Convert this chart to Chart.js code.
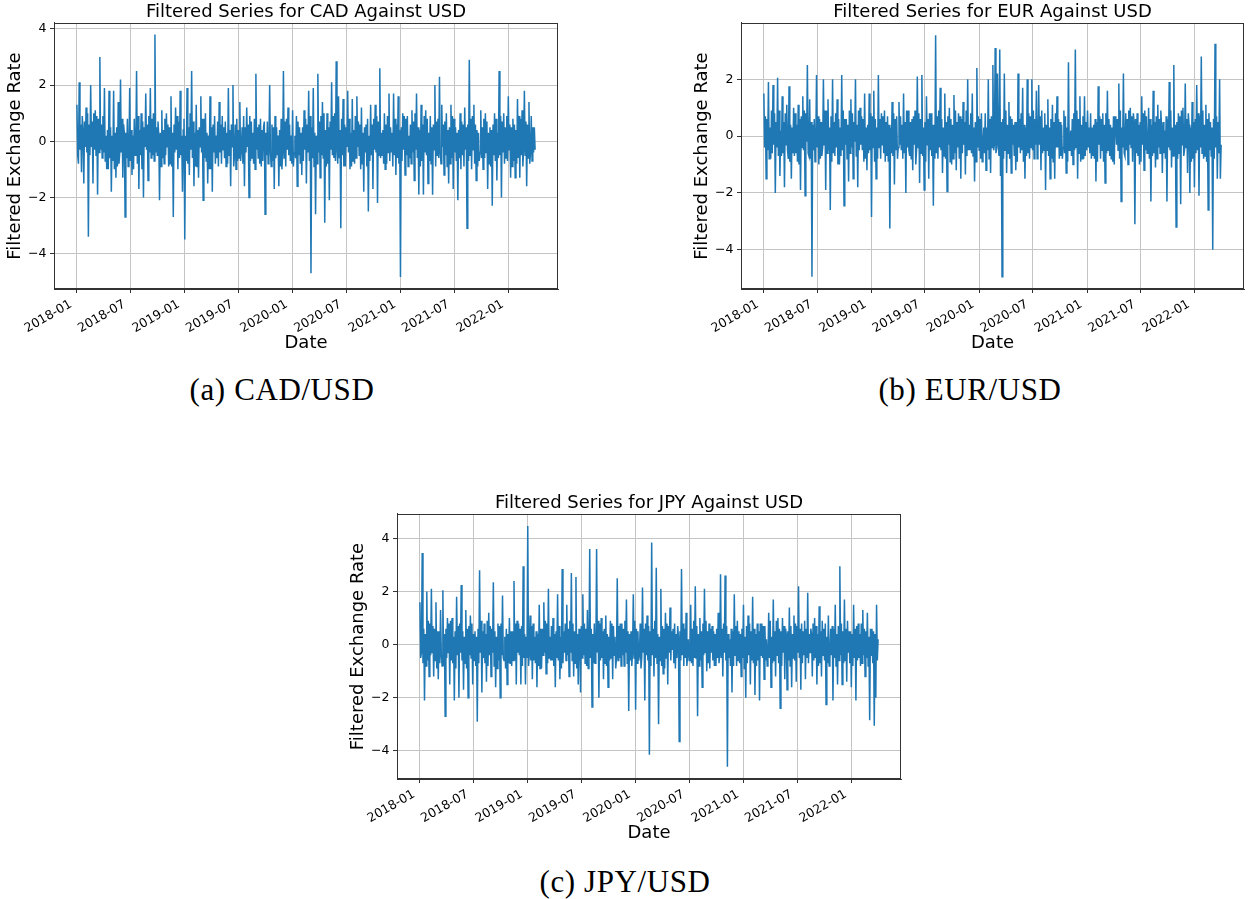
<!DOCTYPE html>
<html><head><meta charset="utf-8">
<script src="https://cdn.jsdelivr.net/npm/chart.js@4.4.1/dist/chart.umd.min.js"></script>
<style>
html,body{margin:0;padding:0;background:#fff;}
#page{position:relative;width:1250px;height:899px;overflow:hidden;background:#fff;}
canvas{position:absolute;}
.cap{position:absolute;font-family:"Liberation Serif","DejaVu Serif",serif;font-size:31px;color:#000;white-space:nowrap;transform:translate(-50%,-50%);letter-spacing:0.6px;}
</style></head><body>
<div id="page">
<canvas id="cad" width="560" height="355" style="left:4px;top:0px"></canvas>
<canvas id="eur" width="559" height="355" style="left:691px;top:0px"></canvas>
<canvas id="jpy" width="560" height="354" style="left:347px;top:491px"></canvas>
<div class="cap" style="left:282px;top:390px">(a) CAD/USD</div>
<div class="cap" style="left:970px;top:390px">(b) EUR/USD</div>
<div class="cap" style="left:625px;top:882px">(c) JPY/USD</div>
</div>
<script>
// ---- data ----
const tickDays = [0, 181, 365, 546, 730, 912, 1096, 1277, 1461];
const tickLabels = ['2018-01','2018-07','2019-01','2019-07','2020-01','2020-07','2021-01','2021-07','2022-01'];
const yTickValues = [-4, -2, 0, 2, 4];
const firstDay = 0;      // 2018-01-01
const lastDay = 1550;    // 2022-03-31

const cadValues = [
 1.3,-0.5,-0.8, 2.1,-0.3,0.6, -1.1,0.9,0.4, -1.5,0.7,-0.2, 1.2,-0.4,1.0, -3.4,0.6,-0.5, 2.0,-0.2,0.7, -1.5,1.0,-0.3, 1.1,-0.5,0.9, -1.9,0.8,-0.4,
 3.0,-0.3,0.6, -0.6,0.9,-0.4, 1.9,-0.7,0.2, -1.0,0.4,-1.0, 1.8,-0.6,0.5, -1.8,0.2,-0.7, 1.8,-1.0,0.3, -1.3,0.5,-0.9, 1.4,-0.8,-0.4, 2.2,-0.4,0.8,
 -1.3,0.6,0.3, -2.7,0.3,-0.6, 0.8,-0.9,-0.5, 1.9,-0.7,0.4, -1.2,0.2,-1.0, 0.8,-0.5,-0.3, 2.5,-0.8,0.9, -1.7,0.4,-0.5, 1.0,-1.0,0.7, -2.0,0.5,-0.2,
 1.7,-0.3,0.6, -1.4,0.9,-0.4, 1.9,-0.6,0.8, -0.5,1.0,-0.7, 3.8,-0.4,0.5, -0.5,0.7,0.2, -2.1,0.3,-0.9, 1.1,-0.6,0.4, -0.8,0.8,-0.5, 1.0,-0.2,0.6,
 -0.9,0.5,-0.8, 1.6,-0.9,0.3, -2.7,0.6,-0.4, 1.2,-0.3,0.9, -1.0,0.7,-0.6, 1.8,-0.5,0.2, -1.8,0.4,0.8, -3.5,0.2,-0.7, 1.9,-0.8,0.5, -1.2,1.0,-0.3,
 2.5,-0.6,0.7, -1.6,0.3,-0.9, 1.3,-0.9,0.4, -1.3,0.5,-0.2, 1.6,-0.4,0.8, -2.1,0.8,-0.6, 1.0,-0.7,0.3, -1.5,0.2,-1.0, 1.6,-1.0,0.5, -1.8,0.6,-0.4,
 0.9,-0.8,0.2, -0.6,0.7,-0.9, 1.4,-0.4,0.6, -0.8,0.9,-0.3, 0.5,-0.6,0.7, -0.9,0.3,-0.8, 1.9,-0.5,0.4, -1.6,0.6,-0.2, 2.0,-0.9,-0.5, 0.6,-1.0,0.8,
 -0.7,0.4,-0.6, 1.4,-0.7,-0.3, 0.5,-0.8,0.9, -1.6,0.5,-0.4, 1.2,-0.2,0.6, -2.0,0.9,-0.7, 0.7,-0.6,0.3, -0.8,0.8,-1.0, 2.4,-0.3,0.5, -0.6,0.6,-0.8,
 0.8,-0.9,0.4, -0.7,0.5,0.7, -2.6,0.3,-0.5, 0.7,-0.8,-0.3, 2.0,-0.4,-0.9, 0.6,-0.7,0.5, -1.7,0.9,-0.6, 0.5,-0.5,0.2, -1.6,0.4,-0.9, 0.8,-1.0,-0.4,
 2.5,-0.6,0.7, -0.9,0.8,-0.3, 1.2,-0.5,0.6, -0.7,0.2,-0.8, 1.1,-0.9,-0.4, 0.2,-0.6,0.9, -1.6,0.7,-0.5, 0.5,-0.8,0.3, -1.2,0.5,-0.7, 1.1,-0.3,0.8,
 -1.5,0.6,-0.4, 1.8,-0.7,0.9, -4.7,0.5,-0.6, 1.9,-0.9,0.3, -2.6,0.2,-0.8, 2.4,-0.4,0.7, -1.3,0.9,-0.5, 1.4,-0.6,1.0, -2.9,0.4,-0.9, 1.0,-0.8,0.5,
 -2.1,0.7,-0.3, 2.1,-0.5,0.9, -0.6,1.0,-0.7, 2.85,-0.3,-0.8, 1.6,-0.6,0.4, -3.1,0.8,-0.5, 1.5,-0.9,0.6, -0.9,0.5,-0.2, 1.8,-0.4,0.8, -1.0,0.3,-0.9,
 1.5,-0.7,0.4, -0.8,0.9,-0.6, 1.6,-0.2,0.7, -0.5,0.6,-1.0, 1.2,-0.8,0.3, -1.8,0.5,-0.4, 0.6,-0.9,0.8, -2.5,0.2,-0.7, 1.3,-0.5,0.6, -1.7,0.8,-0.3,
 1.3,-0.4,0.9, -2.2,0.7,-0.5, 2.6,-0.6,0.3, -0.5,0.4,-0.8, 1.0,-1.0,0.6, -0.8,0.9,-0.4, 1.7,-0.7,0.5, -0.4,0.3,-0.9, 1.7,-0.5,0.8, -1.2,0.6,-0.6,
 1.6,-0.8,0.4, -4.83,0.5,-0.7, 1.0,-0.3,0.9, -1.2,0.8,-0.5, 0.9,-0.9,0.2, -0.6,0.6,-0.8, 1.1,-0.4,0.7, -1.4,1.0,-0.3, 1.7,-0.6,0.5, -1.9,0.4,-0.9,
 1.3,-0.7,0.6, -1.9,0.9,-0.4, 1.1,-0.5,0.8, -1.5,0.3,-0.7, 0.9,-0.8,0.5, -1.9,0.6,-0.3, 2.0,-0.9,0.7, -0.5,0.8,-0.6, 2.3,-0.4,-0.8, 1.3,-0.2,0.6,
 -1.2,0.7,-0.5, 1.0,-0.9,0.4, -1.5,0.5,-0.8, 1.3,-0.6,0.9, -1.7,0.8,-0.4, 0.5,-0.7,0.3, -2.1,0.4,-0.6, 1.0,-1.0,0.7, -0.5,0.6,-0.9, 1.2,-0.3,0.5,
 -3.1,0.6,-0.7, 2.9,-0.5,0.8, -1.0,0.9,-0.3, 1.3,-0.8,0.6, -1.4,0.4,-0.9, 0.3,-0.7,-0.4, 1.1,-0.6,0.5, -1.0,0.8,-0.6, 1.0,-0.4,0.7, -1.7,0.3,-0.8,
 0.5,-0.9,0.4, -2.3,0.6,-0.5, 1.0,-0.7,0.8, -1.4,0.3,-0.6, 2.5,-0.5,0.9, -2.0,0.7,-0.4, 1.0,-0.8,0.5, -0.6,0.9,-0.7, 1.6,-0.3,0.6, -1.3,0.5,-0.9,
 0.8,-0.7,0.6, -1.3,0.4,-0.8, 1.5,-0.6,0.9, -1.3,0.8,-0.5, 1.1,-0.9,-0.3, 1.8,-0.5,0.7, -1.6,0.6,-0.6, 1.4,-0.8,-0.4, 0.9,-0.7,0.5, -0.4,0.5,-0.3
];

const eurValues = [
 1.5,-0.4,0.7, -1.5,0.6,-0.5, 1.9,-0.8,0.3, -0.8,0.9,-0.6, 1.8,-0.3,0.8, -2.0,0.5,-0.4, 2.05,-0.7,0.9, -1.4,0.2,-0.7, 1.4,-0.6,0.5, -1.8,0.8,-0.3,
 1.1,-0.5,-0.8, 1.75,-0.9,0.4, -1.5,0.3,-0.6, 1.0,-0.7,0.8, -0.6,0.4,-0.9, 1.1,-1.0,0.6, -1.9,0.7,-0.4, 1.4,-0.5,0.9, -2.1,0.8,-0.2, 2.5,-0.6,-0.7,
 1.3,-0.8,0.5, -4.95,0.4,-0.5, 0.6,-0.9,-0.3, 2.15,-0.4,0.7, -1.0,0.6,-0.8, 0.5,-0.7,-0.4, 2.0,-0.3,0.9, -1.9,0.9,-0.6, 1.3,-0.5,0.3, -2.6,0.7,-0.9,
 2.0,-0.6,0.5, -0.7,0.8,-0.4, 1.3,-1.0,0.6, -1.0,0.3,-0.7, 2.15,-0.5,0.9, -2.45,0.6,-0.3, 0.6,-0.8,0.4, -1.6,0.9,-0.6, 1.3,-0.4,0.8, -1.5,0.5,-0.2,
 2.0,-0.7,0.4, -1.8,0.9,-0.5, 1.0,-0.3,0.7, -0.5,0.6,-0.9, 1.5,-0.8,0.3, -1.2,0.4,-0.6, 1.5,-0.5,0.8, -2.85,0.7,-0.4, 1.6,-0.9,0.6, -1.5,0.3,-0.8,
 2.15,-0.4,0.6, -0.8,0.8,-0.3, 0.7,-0.6,0.9, -0.9,0.5,-0.7, 0.7,-0.9,0.4, -3.25,0.3,-0.6, 1.2,-0.7,0.8, -1.7,0.6,-0.5, 0.7,-0.8,-0.4, 1.2,-0.3,0.7,
 -0.5,0.4,-0.8, 1.5,-0.6,0.5, -2.0,0.9,-0.4, 0.9,-0.5,-0.7, 0.5,-0.8,0.6, -1.2,0.7,-0.3, 0.9,-1.0,-0.5, 2.1,-0.4,0.8, -1.65,0.6,-0.6, 2.15,-0.7,0.3,
 -1.9,0.5,-0.9, 1.4,-0.3,0.6, -1.5,0.8,-0.5, 0.8,-0.7,0.4, -2.45,0.4,-0.8, 3.55,-0.6,0.7, -0.8,0.9,-0.4, 1.7,-0.5,0.6, -1.3,0.3,-0.7, 1.5,-0.8,0.5,
 -1.95,0.7,-0.3, 1.0,-0.9,0.6, -1.0,0.4,-0.8, 1.45,-0.6,0.9, -1.2,0.5,-0.4, 0.8,-0.8,0.7, -1.5,0.6,-0.6, 1.2,-0.3,0.5, -1.35,0.9,-0.7, 2.0,-0.5,0.4,
 -0.5,0.8,-0.6, 1.5,-0.7,0.3, -1.6,0.5,-0.9, 2.4,-0.4,0.7, -0.5,0.6,-0.8, 0.8,-0.9,-0.3, 0.3,-0.6,0.8, -1.2,0.3,-0.5, 2.0,-0.8,0.6, -1.3,0.7,-0.4,
 2.5,-0.5,-0.3, 3.1,-0.6,-0.4, 2.2,-0.3,-0.7, 3.05,-1.4,0.5, -4.95,0.6,-0.8, 2.2,-0.5,0.9, -1.3,0.4,-0.6, 1.2,-0.8,0.7, -1.3,0.6,-0.3, 0.4,-0.7,0.5,
 -1.2,0.5,-0.9, 2.2,-0.4,0.6, -0.6,0.8,-0.5, 1.7,-0.9,0.4, -1.5,0.3,-0.7, 2.0,-0.6,0.8, -0.8,0.7,-0.4, 2.0,-0.5,0.9, -0.8,0.6,-0.3, 1.6,-0.8,-0.5,
 1.8,-0.3,0.7, -1.2,0.9,-0.6, 0.3,-0.5,0.8, -1.9,0.4,-0.5, 1.3,-0.7,0.3, -1.5,0.6,-0.8, 1.1,-0.9,0.5, -1.5,0.8,-0.4, 1.4,-0.4,0.6, -0.8,0.5,-0.7,
 0.4,-0.8,-0.4, 0.9,-0.6,0.7, -1.3,0.3,-0.9, 2.6,-0.5,-0.3, 0.2,-0.7,0.6, -1.0,0.8,-0.5, 3.05,-0.4,0.9, -1.5,0.6,-0.6, 1.4,-0.9,0.4, -0.8,0.7,-0.8,
 1.4,-0.7,0.5, -0.5,0.9,-0.4, 0.3,-0.6,0.8, -0.8,0.3,-0.7, 0.4,-0.8,0.6, -1.6,0.5,-0.9, 1.75,-0.3,0.7, -0.8,0.6,-0.5, 0.8,-0.9,0.4, -1.65,0.8,-0.6,
 1.6,-0.5,0.6, -0.7,0.4,-0.8, 0.3,-0.9,0.7, -1.0,0.7,0.4, -0.3,0.6,-0.5, 1.85,-0.8,0.9, -2.3,0.3,-0.4, 2.2,-0.6,-0.7, 0.8,-0.5,0.6, -1.0,0.9,-0.3,
 1.0,-0.4,0.7, -0.9,0.8,0.5, -3.1,0.6,-0.6, 0.8,-0.7,0.4, -1.0,0.5,-0.9, 1.4,-0.3,0.8, -1.2,0.9,-0.5, 0.7,-0.6,-0.4, 1.0,-0.8,0.6, -2.3,0.4,-0.7,
 1.6,-0.6,0.5, -1.1,0.7,-0.8, 1.1,-0.4,0.6, -0.6,0.9,0.3, -1.3,0.5,-0.6, 0.2,-0.8,0.7, -2.3,0.6,-0.4, 1.9,-0.5,0.9, -1.1,0.3,-0.7, 2.5,-0.7,0.4,
 -3.2,0.5,-0.8, 0.8,-0.6,0.7, -2.4,0.9,-0.3, 1.0,-0.7,-0.5, 1.85,-0.4,0.6, -1.3,0.8,0.4, -2.0,0.3,-0.9, 1.2,-0.8,0.5, -1.8,0.6,-0.6, 1.8,-0.5,0.8,
 -2.1,0.7,-0.4, 2.8,-0.6,0.9, -0.8,0.4,-0.7, 1.1,-0.9,0.6, -2.6,0.8,-0.5, 0.5,-0.7,0.3, -4.0,0.6,-0.8, 3.25,-0.4,0.7, -1.5,0.5,-0.6, 2.0,-1.5,-0.3
];

const jpyValues = [
 1.6,-0.5,-0.3, 3.45,-0.7,0.6, -2.1,0.4,-0.8, 2.0,-0.6,0.9, -1.2,0.8,-0.4, 2.1,-0.3,0.7, -1.2,0.6,-0.6, 1.6,-0.9,0.5, -1.3,0.5,-0.7, 1.3,-0.4,-0.8,
 2.05,-0.8,0.4, -2.7,0.6,-0.5, 1.0,-0.3,0.8, -1.5,0.9,-0.6, 1.0,-0.7,0.3, -2.1,0.5,-0.9, 1.8,-0.4,0.7, -2.0,0.8,-0.3, 2.25,-0.6,0.5, -1.7,0.3,-0.7,
 1.3,-0.9,0.6, -2.0,0.7,-0.4, 1.1,-0.5,0.8, -1.5,0.4,-0.6, 0.5,-0.8,0.3, -2.9,0.6,-0.7, 2.8,-0.3,0.9, -1.8,0.5,-0.5, 0.8,-0.7,0.4, -1.4,0.9,-0.8,
 1.2,-0.4,0.7, -1.2,0.6,-0.3, 2.35,-0.8,0.5, -1.6,0.3,-0.9, 0.8,-0.6,0.7, -2.0,0.8,-0.4, 1.85,-0.5,-0.6, 0.3,-0.9,0.6, -1.5,0.4,-0.7, 1.0,-0.7,0.5,
 -0.8,0.5,-0.6, 2.4,-0.6,0.8, -1.5,0.9,-0.3, 0.8,-0.4,0.6, -1.5,0.7,-0.8, 2.95,-0.5,0.4, -1.5,0.3,-0.5, 4.47,-0.8,-0.4, 1.1,-0.6,0.7, -1.3,0.8,-0.6,
 0.3,-0.7,0.5, -1.6,0.4,-0.8, 1.5,-0.9,0.6, -0.9,0.6,-0.4, 1.6,-0.3,0.9, -1.1,0.8,-0.7, 2.1,-0.5,0.3, -0.6,0.7,-0.6, 1.0,-0.8,0.4, -1.6,0.5,-0.5,
 1.9,-0.6,0.7, -1.3,0.3,-0.9, 2.85,-0.7,0.5, -0.3,0.8,-0.6, 1.5,-0.4,0.6, -1.2,0.9,-0.3, 2.7,-0.6,0.8, -1.2,0.5,-0.7, 2.55,-0.9,0.4, -1.5,0.6,0.3,
 -1.8,0.7,-0.5, 1.9,-0.4,0.8, -0.7,0.6,-0.8, 1.3,-0.9,-0.3, 3.6,-0.5,0.6, -2.35,0.4,-0.7, 0.8,-0.7,-0.4, 3.6,-0.3,0.9, -2.0,0.8,-0.6, 1.0,-0.5,0.5,
 -1.3,0.6,-0.7, 1.1,-0.8,0.4, -1.6,0.3,-0.6, 0.9,-0.5,0.8, -1.3,0.7,-0.4, 0.3,-0.9,-0.5, 2.5,-0.6,0.7, -0.5,0.8,-0.8, 0.8,-0.4,0.6, -0.8,0.9,-0.3,
 1.7,-0.7,0.5, -2.5,0.4,-0.6, 0.5,-0.8,-0.3, 1.9,-0.5,0.9, -2.45,0.6,-0.7, 0.5,-0.6,-0.4, 0.8,-0.9,-0.5, 2.15,-0.3,0.6, -2.1,0.8,-0.4, 1.1,-0.6,0.7,
 -4.15,0.5,-0.8, 3.85,-0.4,0.6, -1.2,0.9,-0.5, 2.9,-0.7,0.4, -3.0,0.3,-0.6, 2.1,-0.8,0.7, -1.1,0.6,-0.9, 1.2,-0.5,0.8, -1.5,0.7,-0.3, 1.4,-0.6,0.5,
 -0.2,0.6,-0.7, 0.8,-0.9,0.4, -0.5,0.7,0.3, -3.65,0.5,-0.6, 2.85,-0.4,0.8, -0.8,0.6,-0.5, 1.2,-0.8,-0.4, 0.2,-0.6,-0.3, 1.5,-0.7,0.6, -0.8,0.9,-0.5,
 2.2,-0.5,0.7, -2.7,0.4,-0.8, 1.0,-0.6,0.5, -1.6,0.8,-0.4, 2.1,-0.3,0.9, -1.0,0.5,-0.7, 0.8,-0.9,0.6, -0.3,0.7,-0.6, 0.5,-0.8,0.4, -0.8,0.6,-0.5,
 1.2,-0.7,-0.4, 2.65,-0.5,0.6, -1.2,0.8,-0.3, 2.6,-0.6,0.7, -4.6,0.4,-0.5, 0.2,-0.8,0.6, -1.8,0.5,-0.8, 1.9,-0.4,0.7, -0.8,0.9,-0.6, 0.5,-0.7,0.4,
 -1.2,0.6,-0.5, 1.5,-0.9,0.3, -2.0,0.7,-0.7, 1.1,-0.4,0.8, -1.5,0.5,-0.6, 1.8,-0.7,0.6, -1.9,0.4,-0.8, 0.8,-0.6,0.5, -2.1,0.8,-0.4, 0.8,-0.5,0.7,
 -1.3,0.7,-0.6, 0.2,-0.8,-0.4, 1.2,-0.5,0.9, -1.6,0.3,-0.7, 1.7,-0.6,0.5, -1.2,0.9,-0.4, 1.0,-0.7,0.6, -2.4,0.5,-0.8, 1.0,-0.3,0.7, -1.3,0.6,0.4,
 -1.7,0.5,-0.6, 1.4,-0.8,0.7, -1.6,0.4,-0.5, 1.1,-0.6,0.8, -1.4,0.7,-0.3, 2.2,-0.5,0.6, -1.7,0.8,-0.7, 0.5,-0.4,0.9, -1.3,0.6,-0.5, 1.95,-0.7,0.4,
 -0.3,0.6,0.4, -1.2,0.8,-0.6, 1.0,-0.5,0.7, -1.5,0.4,-0.8, 1.45,-0.7,0.5, -1.2,0.9,-0.4, 0.6,-0.6,0.8, -2.25,0.3,-0.7, 1.1,-0.8,-0.5, 0.6,-0.4,0.7,
 -2.1,0.6,-0.5, 1.5,-0.8,0.4, -1.5,0.7,-0.6, 2.95,-0.4,0.8, -1.5,0.5,-0.7, 1.7,-0.6,0.6, -1.4,0.9,-0.3, 0.5,-0.7,0.5, -1.6,0.4,-0.8, 1.5,-0.5,0.6,
 -2.1,0.7,-0.6, 0.8,-0.5,0.4, -0.8,0.8,-0.7, 1.3,-0.4,0.6, -1.2,0.5,-0.5, 1.2,-0.8,0.3, -2.85,0.6,-0.4, 0.6,-0.7,0.5, -3.05,0.4,-2.0, 1.5,-0.6,0.2
];

// ---- styling / layout ----
const FONT = '"DejaVu Sans", Verdana, sans-serif';
const LINE = '#1f77b4';
const GRID = '#c4c4c4';
const SPINE = '#333333';
const X_PAD = (lastDay - firstDay) * 0.05;

// observation days: evenly spaced between first and last day
const sampleStep = (lastDay - firstDay) / (cadValues.length - 1);
const sampleDays = cadValues.map((_, i) => firstDay + i * sampleStep);

function fmtY(v) { return v < 0 ? '\u2212' + Math.abs(v) : String(v); }

const framePlugin = {
  id: 'frame',
  afterDatasetsDraw(chart) {
    const a = chart.chartArea, ctx = chart.ctx;
    ctx.save();
    ctx.strokeStyle = SPINE; ctx.lineWidth = 1;
    ctx.strokeRect(Math.round(a.left) + 0.5, Math.round(a.top) + 0.5,
                   Math.round(a.right - a.left) - 1, Math.round(a.bottom - a.top) - 1);
    ctx.restore();
  }
};

function makeChart(id, title, values, yMin, yMax) {
  const pts = values.map((v, i) => ({ x: sampleDays[i], y: v }));
  return new Chart(document.getElementById(id), {
    type: 'line',
    data: { datasets: [{ data: pts, borderColor: LINE, borderWidth: 1.5, pointRadius: 0, tension: 0, fill: false }] },
    options: {
      responsive: false, animation: false, devicePixelRatio: 1,
      layout: { padding: { left: 0, right: 6, top: 0, bottom: 0 } },
      plugins: {
        legend: { display: false }, tooltip: { enabled: false },
        title: { display: true, text: title, fullSize: false, color: '#000',
                 font: { family: FONT, size: 18, weight: 'normal' }, padding: { top: 1.2, bottom: 0.2 } }
      },
      scales: {
        x: {
          type: 'linear', min: firstDay - X_PAD, max: lastDay + X_PAD,
          afterBuildTicks: s => { s.ticks = tickDays.map(v => ({ value: v })); },
          afterFit: s => { s.height = 66; },
          ticks: { autoSkip: false, minRotation: 30, maxRotation: 30, padding: 4, labelOffset: -6,
                   color: '#000', font: { family: FONT, size: 12.5 },
                   callback: (v, i) => tickLabels[i] },
          grid: { color: GRID, lineWidth: 1, drawTicks: true, tickLength: 4, tickColor: SPINE },
          border: { display: true, color: SPINE, width: 1 },
          title: { display: true, text: 'Date', color: '#000', font: { family: FONT, size: 18 }, padding: { top: 0, bottom: 0.7 } }
        },
        y: {
          min: yMin, max: yMax,
          afterBuildTicks: s => { s.ticks = yTickValues.filter(v => v >= yMin && v <= yMax).map(v => ({ value: v })); },
          afterFit: s => { s.width = 50; },
          ticks: { padding: 3.6, color: '#000', font: { family: FONT, size: 12.5 }, callback: v => fmtY(v) },
          grid: { color: GRID, lineWidth: 1, drawTicks: true, tickLength: 4, tickColor: SPINE },
          border: { display: true, color: SPINE, width: 1 },
          title: { display: true, text: 'Filtered Exchange Rate', color: '#000', font: { family: FONT, size: 18 }, padding: { top: 0.5, bottom: 0 } }
        }
      }
    },
    plugins: [framePlugin]
  });
}

makeChart('cad', 'Filtered Series for CAD Against USD', cadValues, -5.26, 4.21);
makeChart('eur', 'Filtered Series for EUR Against USD', eurValues, -5.38, 3.98);
makeChart('jpy', 'Filtered Series for JPY Against USD', jpyValues, -5.06, 4.92);
</script>
</body></html>
